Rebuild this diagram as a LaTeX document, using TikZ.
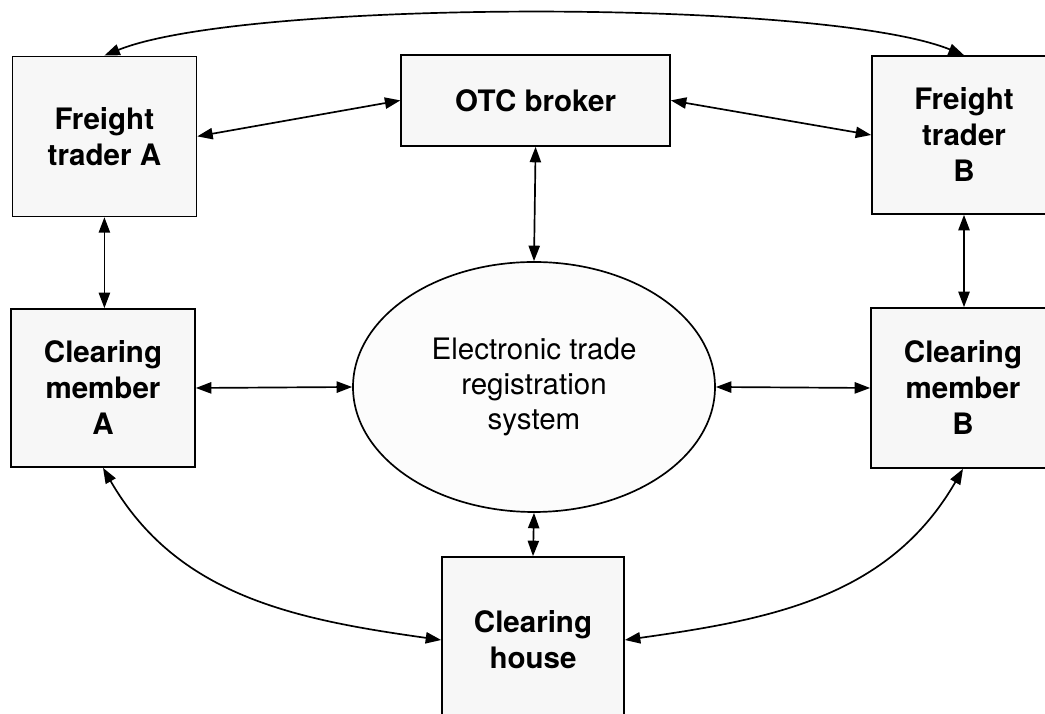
\documentclass[tikz,border=0pt]{standalone}
\usepackage{fontspec}
\setmainfont{TeX Gyre Heros}
\usepackage{tikz}
\usetikzlibrary{shapes.geometric, arrows.meta, positioning}

\begin{document}
\begin{tikzpicture}[
    entblk/.style={draw, rectangle, line width=1.2pt,
                   minimum width=4.6cm, minimum height=4cm,
                   align=center, fill=black!3, inner sep=2pt,
                   font=\fontsize{21}{25.6}\selectfont\bfseries},
    sysell/.style={draw, ellipse, line width=1.2pt,
                   minimum width=9.05cm, minimum height=6.25cm,
                   align=center, fill=black!1, inner sep=0pt,
                   font=\fontsize{21}{25.2}\selectfont},
    arw/.style={{Triangle[length=11pt,width=8pt]}-{Triangle[length=11pt,width=8pt]},
                line width=1.2pt}
  ]
    \clip (0,0) rectangle (26.125,17.85);

    % Entities
    \node[entblk]                                    (fta) at (2.61,14.44)  {Freight\\trader A};
    \node[entblk, minimum width=6.72cm,
          minimum height=2.28cm]                     (otc) at (13.39,15.34) {OTC broker};
    \node[entblk, minimum height=3.95cm]             (ftb) at (24.1,14.475) {Freight\\trader\\B};
    \node[entblk, minimum height=3.95cm]             (cma) at (2.575,8.15)  {Clearing\\member\\A};
    \node[sysell]                                    (ets) at (13.35,8.175) {Electronic trade\\registration\\system};
    \node[entblk]                                    (cmb) at (24.075,8.15) {Clearing\\member\\B};
    \node[entblk, minimum width=4.55cm,
          minimum height=4.15cm]                     (chs) at (13.325,1.85) {Clearing\\house};

    % Links
    \draw[arw] (fta.north) to[out=22, in=158, looseness=0.45] (ftb.north);
    \draw[arw] (fta.east)  -- (otc.west);
    \draw[arw] (otc.east)  -- (ftb.west);
    \draw[arw] (otc.south) -- (ets.north);
    \draw[arw] (fta.south) -- (fta.south |- cma.north);
    \draw[arw] (ftb.south) -- (ftb.south |- cmb.north);
    \draw[arw] (cma.east)  -- (ets.west);
    \draw[arw] (ets.east)  -- (cmb.west);
    \draw[arw] (ets.south) -- (chs.north);
    \draw[arw] (cma.south) to[out=-60, in=172] (chs.west);
    \draw[arw] (cmb.south) to[out=-120, in=8]  (chs.east);
  \end{tikzpicture}
\end{document}
